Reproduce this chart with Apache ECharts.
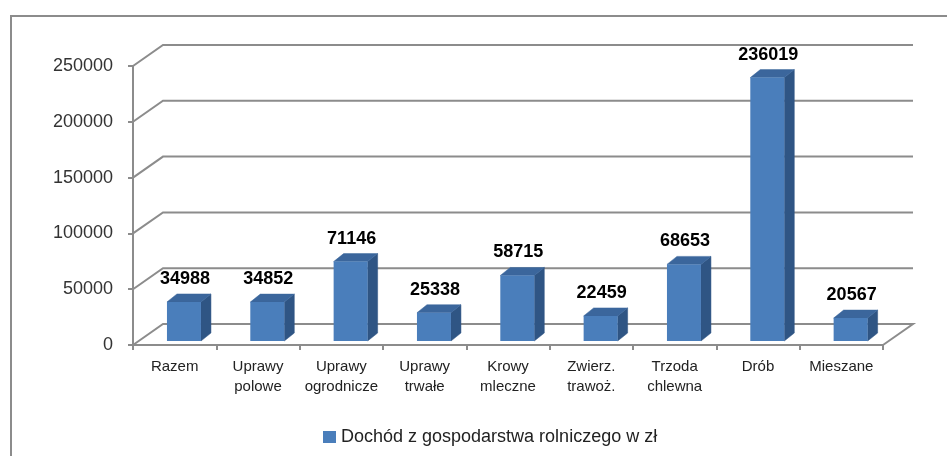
<!DOCTYPE html>
<html>
<head>
<meta charset="utf-8">
<script src="https://cdn.jsdelivr.net/npm/echarts@6/dist/echarts.min.js"></script>
<style>
html, body { margin: 0; padding: 0; background: #fff; }
#chart { width: 947px; height: 456px; }
</style>
</head>
<body>
<div id="chart"></div>
<script>
var categories = ['Razem', 'Uprawy\npolowe', 'Uprawy\nogrodnicze', 'Uprawy\ntrwałe', 'Krowy\nmleczne', 'Zwierz.\ntrawoż.', 'Trzoda\nchlewna', 'Drób', 'Mieszane'];
var values = [34988, 34852, 71146, 25338, 58715, 22459, 68653, 236019, 20567];
var yTicks = [0, 50000, 100000, 150000, 200000, 250000];
var seriesName = 'Dochód z gospodarstwa rolniczego w zł';

var myChart = echarts.init(document.getElementById('chart'));

// perspective offset of the back wall and of the bar depth
var WALL_DX = 30, WALL_DY = -21;
var BAR_DX = 10, BAR_DY = -8;
var gridColor = '#8c8c8c';

function renderWalls(params, api) {
    var cs = params.coordSys;
    var t = api.value(1);
    var y = api.coord([0, t])[1];
    var x0 = cs.x, x1 = cs.x + cs.width;
    var pts = [[x0, y], [x0 + WALL_DX, y + WALL_DY], [x1 + WALL_DX, y + WALL_DY]];
    if (t === 0) {
        pts.push([x1, y]);
    }
    return {
        type: 'polyline',
        shape: { points: pts },
        style: { stroke: gridColor, lineWidth: 2, fill: null },
        silent: true
    };
}

function renderBar(params, api) {
    var i = api.value(0), v = api.value(1);
    var base = api.coord([i, 0]);
    var top = api.coord([i, v]);
    var left = base[0] - 7.7, right = base[0] + 26.3;
    var yb = base[1] - 4, yt = top[1] - 4;
    return {
        type: 'group',
        children: [
            {
                type: 'polygon',
                shape: { points: [[right, yb], [right + BAR_DX, yb + BAR_DY], [right + BAR_DX, yt + BAR_DY], [right, yt]] },
                style: { fill: '#2F5584', stroke: '#2F5584', lineWidth: 0.5 }
            },
            {
                type: 'polygon',
                shape: { points: [[left, yt], [right, yt], [right + BAR_DX, yt + BAR_DY], [left + BAR_DX, yt + BAR_DY]] },
                style: { fill: '#3B669C', stroke: '#3B669C', lineWidth: 0.5 }
            },
            {
                type: 'rect',
                shape: { x: left, y: yt, width: right - left, height: yb - yt },
                style: { fill: '#4A7EBB' }
            },
            {
                type: 'text',
                style: {
                    text: String(v),
                    x: (left + right) / 2 + 1,
                    y: yt + BAR_DY - 6,
                    textAlign: 'center',
                    textVerticalAlign: 'bottom',
                    fontFamily: 'Liberation Sans',
                    fontWeight: 'bold',
                    fontSize: 18,
                    fill: '#000'
                }
            }
        ]
    };
}

var option = {
    animation: false,
    backgroundColor: '#fff',
    graphic: [{
        type: 'rect',
        shape: { x: 11, y: 16, width: 1000, height: 500 },
        style: { fill: null, stroke: '#8c8c8c', lineWidth: 2 },
        silent: true
    }],
    grid: {
        left: 133,
        right: 64,
        top: 66,
        bottom: 111
    },
    legend: {
        data: [seriesName],
        left: 318,
        top: 423,
        icon: 'rect',
        itemWidth: 13,
        itemHeight: 12,
        itemGap: 10,
        textStyle: {
            fontFamily: 'Liberation Sans',
            fontSize: 18,
            color: '#222'
        }
    },
    xAxis: {
        type: 'category',
        data: categories,
        boundaryGap: true,
        axisLine: { lineStyle: { color: gridColor, width: 2 } },
        axisTick: { show: true, length: 5, interval: 0, lineStyle: { color: gridColor, width: 2 } },
        axisLabel: {
            interval: 0,
            margin: 12,
            fontFamily: 'Liberation Sans',
            fontSize: 15,
            lineHeight: 20,
            color: '#222'
        }
    },
    yAxis: {
        type: 'value',
        min: 0,
        max: 250000,
        interval: 50000,
        splitLine: { show: false },
        axisLine: { show: true, lineStyle: { color: gridColor, width: 2 } },
        axisTick: { show: true, length: 5, lineStyle: { color: gridColor, width: 2 } },
        axisLabel: {
            margin: 20,
            fontFamily: 'Liberation Sans',
            fontSize: 18,
            color: '#333',
            formatter: function (v) { return String(v); }
        }
    },
    series: [
        {
            name: 'walls',
            type: 'custom',
            silent: true,
            z: 1,
            renderItem: renderWalls,
            data: yTicks.map(function (t) { return [0, t]; })
        },
        {
            name: seriesName,
            type: 'custom',
            z: 3,
            itemStyle: { color: '#4A7EBB' },
            renderItem: renderBar,
            data: values.map(function (v, i) { return [i, v]; })
        }
    ]
};
myChart.setOption(option);
</script>
</body>
</html>
